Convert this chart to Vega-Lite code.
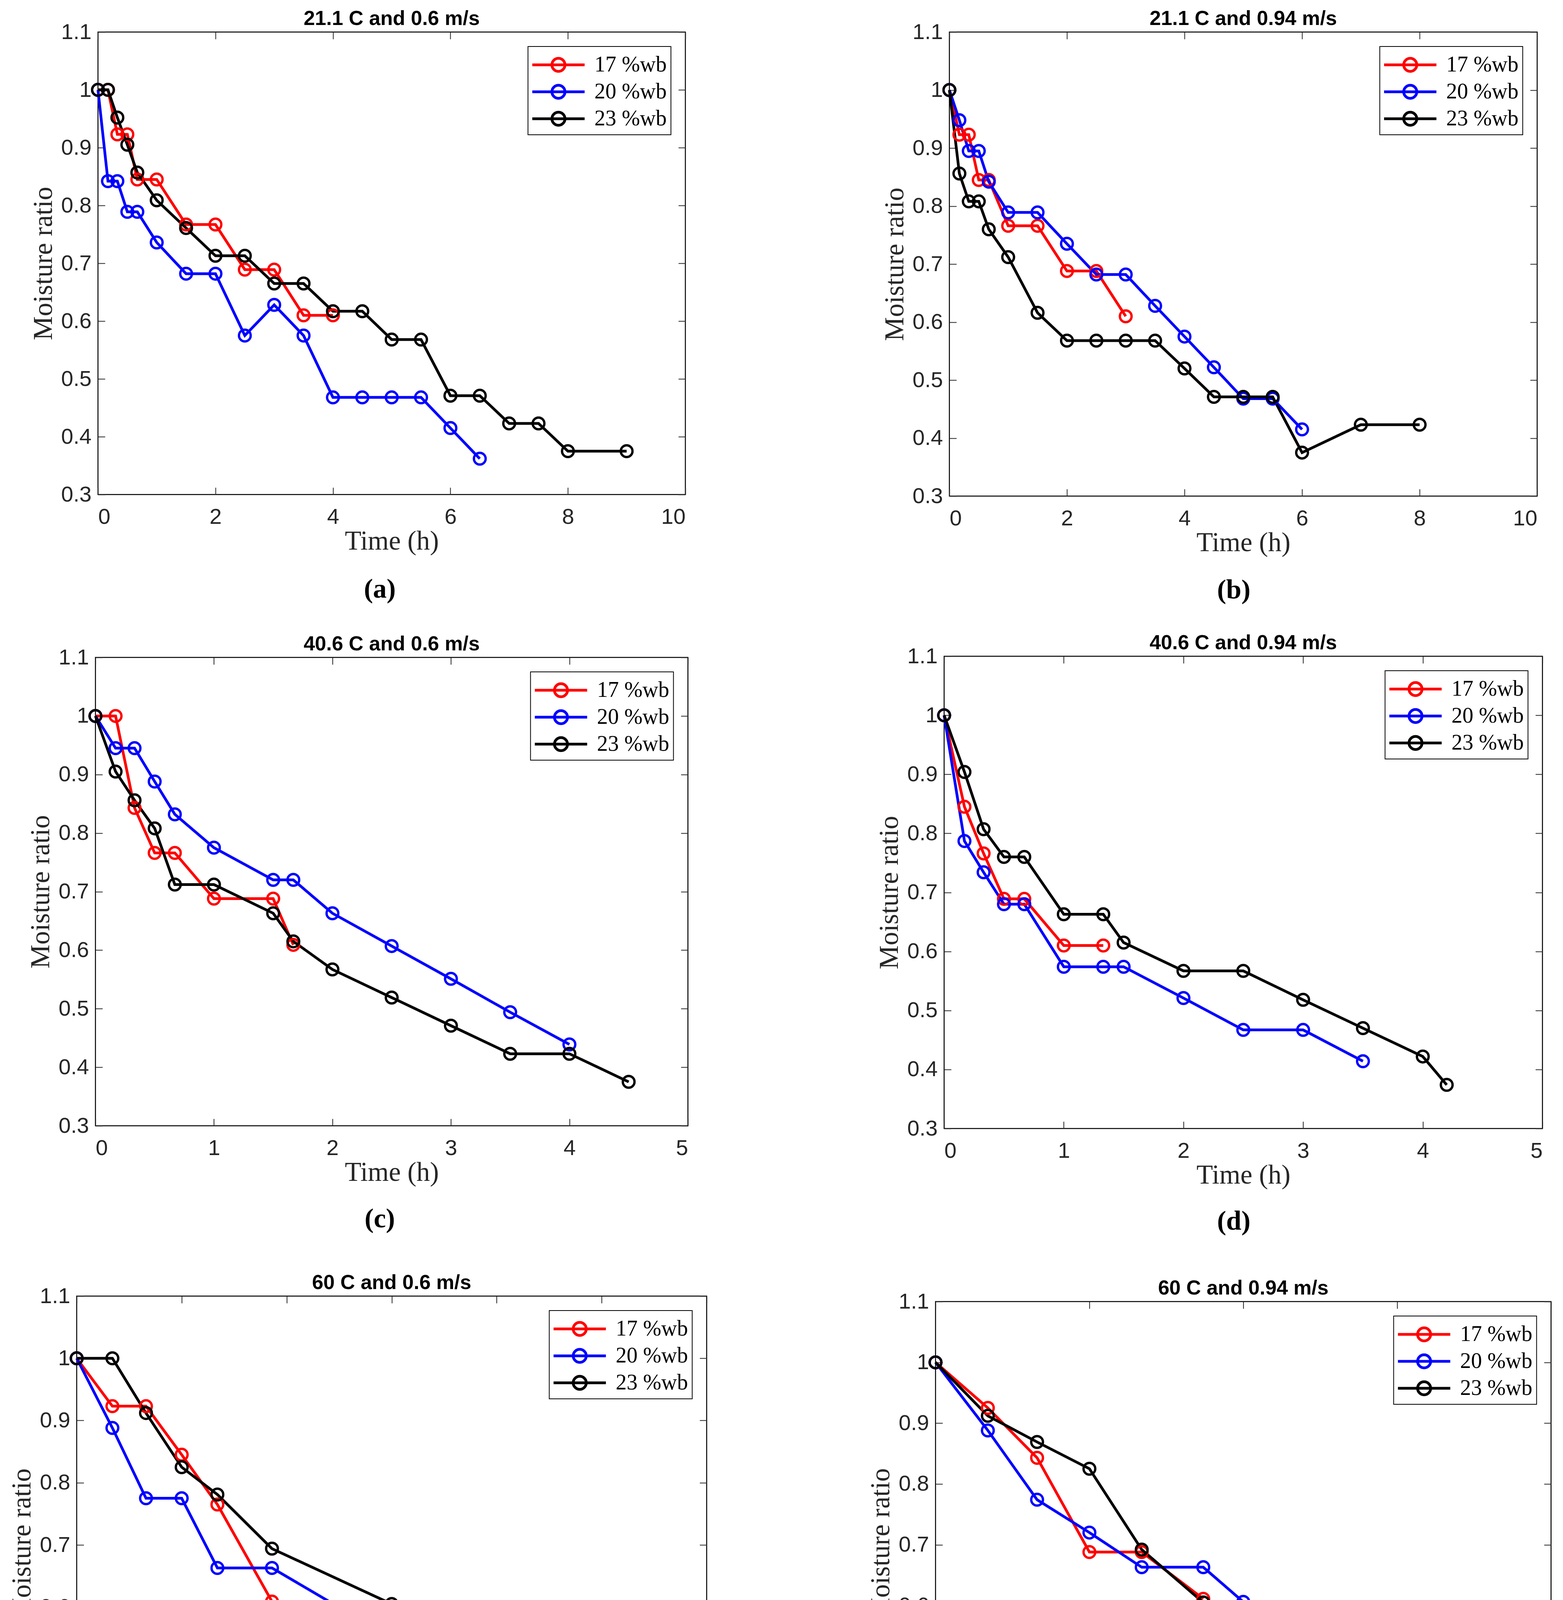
{
  "$schema": "https://vega.github.io/schema/vega-lite/v6.json",
  "background": "white",
  "padding": {"left": 21, "top": 20, "right": 10, "bottom": 0},
  "config": {
    "view": {"stroke": "black", "strokeWidth": 2.5},
    "title": {"font": "Liberation Sans", "fontSize": 52, "fontWeight": "bold", "color": "black", "offset": -21, "anchor": "middle", "frame": "group"},
    "axis": {
      "grid": false, "domain": false, "tickSize": -18, "tickWidth": 2, "tickColor": "#262626", "minExtent": 0,
      "labelFont": "Liberation Sans Narrow, Liberation Sans", "labelFontSize": 56, "labelColor": "#262626",
      "titleFont": "Liberation Serif", "titleFontSize": 69, "titleFontWeight": "normal", "titleColor": "#262626",
      "format": "~r"
    },
    "axisBottom": {"labelPadding": 48, "titlePadding": 0},
    "axisLeft": {"labelPadding": 35, "titlePadding": 10},
    "legend": {
      "orient": "top-right", "offset": 37, "title": null, "labelLimit": 0,
      "strokeColor": "black", "strokeWidth": 2, "fillColor": "white", "padding": 10,
      "labelFont": "Liberation Serif", "labelFontSize": 56, "labelColor": "black",
      "symbolSize": 4489, "symbolStrokeWidth": 6.5, "symbolOffset": 31, "labelOffset": 55, "rowPadding": 1
    },
    "line": {"strokeWidth": 7},
    "point": {"filled": false, "shape": "circle", "size": 900, "strokeWidth": 6, "opacity": 1}
  },
  "datasets": {
    "drying": [
      {"panel": "a", "series": "17 %wb", "time": 0, "mr": 1},
      {"panel": "a", "series": "17 %wb", "time": 0.17, "mr": 1},
      {"panel": "a", "series": "17 %wb", "time": 0.33, "mr": 0.923},
      {"panel": "a", "series": "17 %wb", "time": 0.5, "mr": 0.923},
      {"panel": "a", "series": "17 %wb", "time": 0.67, "mr": 0.845},
      {"panel": "a", "series": "17 %wb", "time": 1, "mr": 0.845},
      {"panel": "a", "series": "17 %wb", "time": 1.5, "mr": 0.767},
      {"panel": "a", "series": "17 %wb", "time": 2, "mr": 0.767},
      {"panel": "a", "series": "17 %wb", "time": 2.5, "mr": 0.689},
      {"panel": "a", "series": "17 %wb", "time": 3, "mr": 0.689},
      {"panel": "a", "series": "17 %wb", "time": 3.5, "mr": 0.61},
      {"panel": "a", "series": "17 %wb", "time": 4, "mr": 0.61},
      {"panel": "a", "series": "20 %wb", "time": 0, "mr": 1},
      {"panel": "a", "series": "20 %wb", "time": 0.17, "mr": 0.842},
      {"panel": "a", "series": "20 %wb", "time": 0.33, "mr": 0.842},
      {"panel": "a", "series": "20 %wb", "time": 0.5, "mr": 0.789},
      {"panel": "a", "series": "20 %wb", "time": 0.67, "mr": 0.789},
      {"panel": "a", "series": "20 %wb", "time": 1, "mr": 0.736},
      {"panel": "a", "series": "20 %wb", "time": 1.5, "mr": 0.682},
      {"panel": "a", "series": "20 %wb", "time": 2, "mr": 0.682},
      {"panel": "a", "series": "20 %wb", "time": 2.5, "mr": 0.575},
      {"panel": "a", "series": "20 %wb", "time": 3, "mr": 0.628},
      {"panel": "a", "series": "20 %wb", "time": 3.5, "mr": 0.575},
      {"panel": "a", "series": "20 %wb", "time": 4, "mr": 0.468},
      {"panel": "a", "series": "20 %wb", "time": 4.5, "mr": 0.468},
      {"panel": "a", "series": "20 %wb", "time": 5, "mr": 0.468},
      {"panel": "a", "series": "20 %wb", "time": 5.5, "mr": 0.468},
      {"panel": "a", "series": "20 %wb", "time": 6, "mr": 0.415},
      {"panel": "a", "series": "20 %wb", "time": 6.5, "mr": 0.362},
      {"panel": "a", "series": "23 %wb", "time": 0, "mr": 1},
      {"panel": "a", "series": "23 %wb", "time": 0.17, "mr": 1},
      {"panel": "a", "series": "23 %wb", "time": 0.33, "mr": 0.952},
      {"panel": "a", "series": "23 %wb", "time": 0.5, "mr": 0.905},
      {"panel": "a", "series": "23 %wb", "time": 0.67, "mr": 0.857},
      {"panel": "a", "series": "23 %wb", "time": 1, "mr": 0.809},
      {"panel": "a", "series": "23 %wb", "time": 1.5, "mr": 0.761},
      {"panel": "a", "series": "23 %wb", "time": 2, "mr": 0.713},
      {"panel": "a", "series": "23 %wb", "time": 2.5, "mr": 0.713},
      {"panel": "a", "series": "23 %wb", "time": 3, "mr": 0.665},
      {"panel": "a", "series": "23 %wb", "time": 3.5, "mr": 0.665},
      {"panel": "a", "series": "23 %wb", "time": 4, "mr": 0.617},
      {"panel": "a", "series": "23 %wb", "time": 4.5, "mr": 0.617},
      {"panel": "a", "series": "23 %wb", "time": 5, "mr": 0.568},
      {"panel": "a", "series": "23 %wb", "time": 5.5, "mr": 0.568},
      {"panel": "a", "series": "23 %wb", "time": 6, "mr": 0.471},
      {"panel": "a", "series": "23 %wb", "time": 6.5, "mr": 0.471},
      {"panel": "a", "series": "23 %wb", "time": 7, "mr": 0.423},
      {"panel": "a", "series": "23 %wb", "time": 7.5, "mr": 0.423},
      {"panel": "a", "series": "23 %wb", "time": 8, "mr": 0.375},
      {"panel": "a", "series": "23 %wb", "time": 9, "mr": 0.375},

      {"panel": "b", "series": "17 %wb", "time": 0, "mr": 1},
      {"panel": "b", "series": "17 %wb", "time": 0.17, "mr": 0.923},
      {"panel": "b", "series": "17 %wb", "time": 0.33, "mr": 0.923},
      {"panel": "b", "series": "17 %wb", "time": 0.5, "mr": 0.845},
      {"panel": "b", "series": "17 %wb", "time": 0.67, "mr": 0.845},
      {"panel": "b", "series": "17 %wb", "time": 1, "mr": 0.766},
      {"panel": "b", "series": "17 %wb", "time": 1.5, "mr": 0.766},
      {"panel": "b", "series": "17 %wb", "time": 2, "mr": 0.688},
      {"panel": "b", "series": "17 %wb", "time": 2.5, "mr": 0.688},
      {"panel": "b", "series": "17 %wb", "time": 3, "mr": 0.61},
      {"panel": "b", "series": "20 %wb", "time": 0, "mr": 1},
      {"panel": "b", "series": "20 %wb", "time": 0.17, "mr": 0.948},
      {"panel": "b", "series": "20 %wb", "time": 0.33, "mr": 0.895},
      {"panel": "b", "series": "20 %wb", "time": 0.5, "mr": 0.895},
      {"panel": "b", "series": "20 %wb", "time": 0.67, "mr": 0.842},
      {"panel": "b", "series": "20 %wb", "time": 1, "mr": 0.789},
      {"panel": "b", "series": "20 %wb", "time": 1.5, "mr": 0.789},
      {"panel": "b", "series": "20 %wb", "time": 2, "mr": 0.735},
      {"panel": "b", "series": "20 %wb", "time": 2.5, "mr": 0.682},
      {"panel": "b", "series": "20 %wb", "time": 3, "mr": 0.682},
      {"panel": "b", "series": "20 %wb", "time": 3.5, "mr": 0.628},
      {"panel": "b", "series": "20 %wb", "time": 4, "mr": 0.575},
      {"panel": "b", "series": "20 %wb", "time": 4.5, "mr": 0.522},
      {"panel": "b", "series": "20 %wb", "time": 5, "mr": 0.468},
      {"panel": "b", "series": "20 %wb", "time": 5.5, "mr": 0.468},
      {"panel": "b", "series": "20 %wb", "time": 6, "mr": 0.415},
      {"panel": "b", "series": "23 %wb", "time": 0, "mr": 1},
      {"panel": "b", "series": "23 %wb", "time": 0.17, "mr": 0.856},
      {"panel": "b", "series": "23 %wb", "time": 0.33, "mr": 0.808},
      {"panel": "b", "series": "23 %wb", "time": 0.5, "mr": 0.808},
      {"panel": "b", "series": "23 %wb", "time": 0.67, "mr": 0.76},
      {"panel": "b", "series": "23 %wb", "time": 1, "mr": 0.712},
      {"panel": "b", "series": "23 %wb", "time": 1.5, "mr": 0.616},
      {"panel": "b", "series": "23 %wb", "time": 2, "mr": 0.568},
      {"panel": "b", "series": "23 %wb", "time": 2.5, "mr": 0.568},
      {"panel": "b", "series": "23 %wb", "time": 3, "mr": 0.568},
      {"panel": "b", "series": "23 %wb", "time": 3.5, "mr": 0.568},
      {"panel": "b", "series": "23 %wb", "time": 4, "mr": 0.52},
      {"panel": "b", "series": "23 %wb", "time": 4.5, "mr": 0.471},
      {"panel": "b", "series": "23 %wb", "time": 5, "mr": 0.471},
      {"panel": "b", "series": "23 %wb", "time": 5.5, "mr": 0.471},
      {"panel": "b", "series": "23 %wb", "time": 6, "mr": 0.375},
      {"panel": "b", "series": "23 %wb", "time": 7, "mr": 0.423},
      {"panel": "b", "series": "23 %wb", "time": 8, "mr": 0.423},

      {"panel": "c", "series": "17 %wb", "time": 0, "mr": 1},
      {"panel": "c", "series": "17 %wb", "time": 0.17, "mr": 1},
      {"panel": "c", "series": "17 %wb", "time": 0.33, "mr": 0.843},
      {"panel": "c", "series": "17 %wb", "time": 0.5, "mr": 0.766},
      {"panel": "c", "series": "17 %wb", "time": 0.67, "mr": 0.766},
      {"panel": "c", "series": "17 %wb", "time": 1, "mr": 0.688},
      {"panel": "c", "series": "17 %wb", "time": 1.5, "mr": 0.688},
      {"panel": "c", "series": "17 %wb", "time": 1.67, "mr": 0.609},
      {"panel": "c", "series": "20 %wb", "time": 0, "mr": 1},
      {"panel": "c", "series": "20 %wb", "time": 0.17, "mr": 0.945},
      {"panel": "c", "series": "20 %wb", "time": 0.33, "mr": 0.945},
      {"panel": "c", "series": "20 %wb", "time": 0.5, "mr": 0.888},
      {"panel": "c", "series": "20 %wb", "time": 0.67, "mr": 0.832},
      {"panel": "c", "series": "20 %wb", "time": 1, "mr": 0.775},
      {"panel": "c", "series": "20 %wb", "time": 1.5, "mr": 0.72},
      {"panel": "c", "series": "20 %wb", "time": 1.67, "mr": 0.72},
      {"panel": "c", "series": "20 %wb", "time": 2, "mr": 0.663},
      {"panel": "c", "series": "20 %wb", "time": 2.5, "mr": 0.607},
      {"panel": "c", "series": "20 %wb", "time": 3, "mr": 0.551},
      {"panel": "c", "series": "20 %wb", "time": 3.5, "mr": 0.494},
      {"panel": "c", "series": "20 %wb", "time": 4, "mr": 0.439},
      {"panel": "c", "series": "23 %wb", "time": 0, "mr": 1},
      {"panel": "c", "series": "23 %wb", "time": 0.17, "mr": 0.905},
      {"panel": "c", "series": "23 %wb", "time": 0.33, "mr": 0.856},
      {"panel": "c", "series": "23 %wb", "time": 0.5, "mr": 0.808},
      {"panel": "c", "series": "23 %wb", "time": 0.67, "mr": 0.712},
      {"panel": "c", "series": "23 %wb", "time": 1, "mr": 0.712},
      {"panel": "c", "series": "23 %wb", "time": 1.5, "mr": 0.663},
      {"panel": "c", "series": "23 %wb", "time": 1.67, "mr": 0.615},
      {"panel": "c", "series": "23 %wb", "time": 2, "mr": 0.567},
      {"panel": "c", "series": "23 %wb", "time": 2.5, "mr": 0.519},
      {"panel": "c", "series": "23 %wb", "time": 3, "mr": 0.471},
      {"panel": "c", "series": "23 %wb", "time": 3.5, "mr": 0.423},
      {"panel": "c", "series": "23 %wb", "time": 4, "mr": 0.423},
      {"panel": "c", "series": "23 %wb", "time": 4.5, "mr": 0.375},

      {"panel": "d", "series": "17 %wb", "time": 0, "mr": 1},
      {"panel": "d", "series": "17 %wb", "time": 0.17, "mr": 0.845},
      {"panel": "d", "series": "17 %wb", "time": 0.33, "mr": 0.766},
      {"panel": "d", "series": "17 %wb", "time": 0.5, "mr": 0.689},
      {"panel": "d", "series": "17 %wb", "time": 0.67, "mr": 0.689},
      {"panel": "d", "series": "17 %wb", "time": 1, "mr": 0.61},
      {"panel": "d", "series": "17 %wb", "time": 1.33, "mr": 0.61},
      {"panel": "d", "series": "20 %wb", "time": 0, "mr": 1},
      {"panel": "d", "series": "20 %wb", "time": 0.17, "mr": 0.787},
      {"panel": "d", "series": "20 %wb", "time": 0.33, "mr": 0.734},
      {"panel": "d", "series": "20 %wb", "time": 0.5, "mr": 0.68},
      {"panel": "d", "series": "20 %wb", "time": 0.67, "mr": 0.68},
      {"panel": "d", "series": "20 %wb", "time": 1, "mr": 0.574},
      {"panel": "d", "series": "20 %wb", "time": 1.33, "mr": 0.574},
      {"panel": "d", "series": "20 %wb", "time": 1.5, "mr": 0.574},
      {"panel": "d", "series": "20 %wb", "time": 2, "mr": 0.521},
      {"panel": "d", "series": "20 %wb", "time": 2.5, "mr": 0.467},
      {"panel": "d", "series": "20 %wb", "time": 3, "mr": 0.467},
      {"panel": "d", "series": "20 %wb", "time": 3.5, "mr": 0.414},
      {"panel": "d", "series": "23 %wb", "time": 0, "mr": 1},
      {"panel": "d", "series": "23 %wb", "time": 0.17, "mr": 0.904},
      {"panel": "d", "series": "23 %wb", "time": 0.33, "mr": 0.807},
      {"panel": "d", "series": "23 %wb", "time": 0.5, "mr": 0.76},
      {"panel": "d", "series": "23 %wb", "time": 0.67, "mr": 0.76},
      {"panel": "d", "series": "23 %wb", "time": 1, "mr": 0.663},
      {"panel": "d", "series": "23 %wb", "time": 1.33, "mr": 0.663},
      {"panel": "d", "series": "23 %wb", "time": 1.5, "mr": 0.615},
      {"panel": "d", "series": "23 %wb", "time": 2, "mr": 0.567},
      {"panel": "d", "series": "23 %wb", "time": 2.5, "mr": 0.567},
      {"panel": "d", "series": "23 %wb", "time": 3, "mr": 0.518},
      {"panel": "d", "series": "23 %wb", "time": 3.5, "mr": 0.47},
      {"panel": "d", "series": "23 %wb", "time": 4, "mr": 0.422},
      {"panel": "d", "series": "23 %wb", "time": 4.2, "mr": 0.374},

      {"panel": "e", "series": "17 %wb", "time": 0, "mr": 1},
      {"panel": "e", "series": "17 %wb", "time": 0.17, "mr": 0.923},
      {"panel": "e", "series": "17 %wb", "time": 0.33, "mr": 0.923},
      {"panel": "e", "series": "17 %wb", "time": 0.5, "mr": 0.845},
      {"panel": "e", "series": "17 %wb", "time": 0.67, "mr": 0.765},
      {"panel": "e", "series": "17 %wb", "time": 0.93, "mr": 0.609},
      {"panel": "e", "series": "20 %wb", "time": 0, "mr": 1},
      {"panel": "e", "series": "20 %wb", "time": 0.17, "mr": 0.888},
      {"panel": "e", "series": "20 %wb", "time": 0.33, "mr": 0.775},
      {"panel": "e", "series": "20 %wb", "time": 0.5, "mr": 0.775},
      {"panel": "e", "series": "20 %wb", "time": 0.67, "mr": 0.663},
      {"panel": "e", "series": "20 %wb", "time": 0.93, "mr": 0.663},
      {"panel": "e", "series": "20 %wb", "time": 1.5, "mr": 0.55},
      {"panel": "e", "series": "20 %wb", "time": 1.8, "mr": 0.494},
      {"panel": "e", "series": "23 %wb", "time": 0, "mr": 1},
      {"panel": "e", "series": "23 %wb", "time": 0.17, "mr": 1},
      {"panel": "e", "series": "23 %wb", "time": 0.33, "mr": 0.912},
      {"panel": "e", "series": "23 %wb", "time": 0.5, "mr": 0.825},
      {"panel": "e", "series": "23 %wb", "time": 0.67, "mr": 0.781},
      {"panel": "e", "series": "23 %wb", "time": 0.93, "mr": 0.694},
      {"panel": "e", "series": "23 %wb", "time": 1.5, "mr": 0.605},
      {"panel": "e", "series": "23 %wb", "time": 1.8, "mr": 0.562},
      {"panel": "e", "series": "23 %wb", "time": 2, "mr": 0.517},
      {"panel": "e", "series": "23 %wb", "time": 2.5, "mr": 0.342},

      {"panel": "f", "series": "17 %wb", "time": 0, "mr": 1},
      {"panel": "f", "series": "17 %wb", "time": 0.17, "mr": 0.925},
      {"panel": "f", "series": "17 %wb", "time": 0.33, "mr": 0.843},
      {"panel": "f", "series": "17 %wb", "time": 0.5, "mr": 0.688},
      {"panel": "f", "series": "17 %wb", "time": 0.67, "mr": 0.688},
      {"panel": "f", "series": "17 %wb", "time": 0.87, "mr": 0.611},
      {"panel": "f", "series": "20 %wb", "time": 0, "mr": 1},
      {"panel": "f", "series": "20 %wb", "time": 0.17, "mr": 0.888},
      {"panel": "f", "series": "20 %wb", "time": 0.33, "mr": 0.774},
      {"panel": "f", "series": "20 %wb", "time": 0.5, "mr": 0.72},
      {"panel": "f", "series": "20 %wb", "time": 0.67, "mr": 0.663},
      {"panel": "f", "series": "20 %wb", "time": 0.87, "mr": 0.663},
      {"panel": "f", "series": "20 %wb", "time": 1, "mr": 0.606},
      {"panel": "f", "series": "20 %wb", "time": 1.37, "mr": 0.437},
      {"panel": "f", "series": "23 %wb", "time": 0, "mr": 1},
      {"panel": "f", "series": "23 %wb", "time": 0.17, "mr": 0.912},
      {"panel": "f", "series": "23 %wb", "time": 0.33, "mr": 0.869},
      {"panel": "f", "series": "23 %wb", "time": 0.5, "mr": 0.825},
      {"panel": "f", "series": "23 %wb", "time": 0.67, "mr": 0.692},
      {"panel": "f", "series": "23 %wb", "time": 0.87, "mr": 0.605},
      {"panel": "f", "series": "23 %wb", "time": 1, "mr": 0.561},
      {"panel": "f", "series": "23 %wb", "time": 1.37, "mr": 0.473},
      {"panel": "f", "series": "23 %wb", "time": 1.5, "mr": 0.385},
      {"panel": "f", "series": "23 %wb", "time": 1.83, "mr": 0.34}
    ]
  },
  "data": {"name": "drying"},
  "resolve": {"scale": {"color": "independent", "stroke": "independent"}, "legend": {"stroke": "independent"}},
  "spacing": 408,
  "hconcat": [
    {
      "vconcat": [
        {
          "title": {"text": "(a)", "orient": "bottom", "offset": 54, "dx": 56, "font": "Liberation Serif", "fontSize": 70, "fontWeight": "bold", "frame": "bounds"},
          "resolve": {"scale": {"stroke": "independent"}, "legend": {"stroke": "independent"}},
          "vconcat": [
            {
              "width": 1504, "height": 1184,
              "title": {"text": "21.1 C and 0.6 m/s"},
              "transform": [{"filter": "datum.panel == 'a'"}],
              "encoding": {
                "stroke": {"field": "series", "type": "nominal",
                  "scale": {"domain": ["17 %wb", "20 %wb", "23 %wb"], "range": ["#ff0000", "#0000ff", "#000000"]},
                  "legend": {"symbolType": "M-2,0L2,0M-0.5,0A0.5,0.5,0,1,1,0.5,0A0.5,0.5,0,1,1,-0.5,0Z", "symbolFillColor": "transparent"}}
              },
              "layer": [
                {"mark": "line", "encoding": {
                  "x": {"field": "time", "type": "quantitative", "scale": {"domain": [0, 10], "nice": false, "zero": false}, "axis": {"values": [0, 2, 4, 6, 8, 10], "title": "Time (h)"}},
                  "y": {"field": "mr", "type": "quantitative", "scale": {"domain": [0.3, 1.1], "nice": false, "zero": false}, "axis": {"values": [0.3, 0.4, 0.5, 0.6, 0.7, 0.8, 0.9, 1, 1.1], "title": "Moisture ratio"}}}},
                {"mark": "point", "encoding": {
                  "x": {"field": "time", "type": "quantitative", "scale": {"domain": [0, 10], "nice": false, "zero": false}, "axis": {"orient": "top", "values": [0, 2, 4, 6, 8, 10], "labels": false, "title": null}},
                  "y": {"field": "mr", "type": "quantitative", "scale": {"domain": [0.3, 1.1], "nice": false, "zero": false}, "axis": {"orient": "right", "values": [0.3, 0.4, 0.5, 0.6, 0.7, 0.8, 0.9, 1, 1.1], "labels": false, "title": null}}}}
              ],
              "resolve": {"scale": {"x": "independent", "y": "independent"}}
            }
          ]
        },
        {
          "title": {"text": "(c)", "orient": "bottom", "offset": 50, "dx": 56, "font": "Liberation Serif", "fontSize": 70, "fontWeight": "bold", "frame": "bounds", "subtitle": " ", "subtitleFontSize": 8, "subtitlePadding": 14},
          "resolve": {"scale": {"stroke": "independent"}, "legend": {"stroke": "independent"}},
          "vconcat": [
            {
              "width": 1517, "height": 1199,
              "title": {"text": "40.6 C and 0.6 m/s"},
              "transform": [{"filter": "datum.panel == 'c'"}],
              "encoding": {
                "stroke": {"field": "series", "type": "nominal",
                  "scale": {"domain": ["17 %wb", "20 %wb", "23 %wb"], "range": ["#ff0000", "#0000ff", "#000000"]},
                  "legend": {"symbolType": "M-2,0L2,0M-0.5,0A0.5,0.5,0,1,1,0.5,0A0.5,0.5,0,1,1,-0.5,0Z", "symbolFillColor": "transparent"}}
              },
              "layer": [
                {"mark": "line", "encoding": {
                  "x": {"field": "time", "type": "quantitative", "scale": {"domain": [0, 5], "nice": false, "zero": false}, "axis": {"values": [0, 1, 2, 3, 4, 5], "title": "Time (h)"}},
                  "y": {"field": "mr", "type": "quantitative", "scale": {"domain": [0.3, 1.1], "nice": false, "zero": false}, "axis": {"values": [0.3, 0.4, 0.5, 0.6, 0.7, 0.8, 0.9, 1, 1.1], "title": "Moisture ratio"}}}},
                {"mark": "point", "encoding": {
                  "x": {"field": "time", "type": "quantitative", "scale": {"domain": [0, 5], "nice": false, "zero": false}, "axis": {"orient": "top", "values": [0, 1, 2, 3, 4, 5], "labels": false, "title": null}},
                  "y": {"field": "mr", "type": "quantitative", "scale": {"domain": [0.3, 1.1], "nice": false, "zero": false}, "axis": {"orient": "right", "values": [0.3, 0.4, 0.5, 0.6, 0.7, 0.8, 0.9, 1, 1.1], "labels": false, "title": null}}}}
              ],
              "resolve": {"scale": {"x": "independent", "y": "independent"}}
            }
          ]
        },
        {
          "title": {"text": "(e)", "orient": "bottom", "offset": 80, "dx": 56, "font": "Liberation Serif", "fontSize": 70, "fontWeight": "bold", "frame": "bounds"},
          "resolve": {"scale": {"stroke": "independent"}, "legend": {"stroke": "independent"}},
          "vconcat": [
            {
              "width": 1613, "height": 1274,
              "title": {"text": "60 C and 0.6 m/s"},
              "transform": [{"filter": "datum.panel == 'e'"}],
              "encoding": {
                "stroke": {"field": "series", "type": "nominal",
                  "scale": {"domain": ["17 %wb", "20 %wb", "23 %wb"], "range": ["#ff0000", "#0000ff", "#000000"]},
                  "legend": {"symbolType": "M-2,0L2,0M-0.5,0A0.5,0.5,0,1,1,0.5,0A0.5,0.5,0,1,1,-0.5,0Z", "symbolFillColor": "transparent"}}
              },
              "layer": [
                {"mark": "line", "encoding": {
                  "x": {"field": "time", "type": "quantitative", "scale": {"domain": [0, 3], "nice": false, "zero": false}, "axis": {"values": [0, 0.5, 1, 1.5, 2, 2.5, 3], "title": "Time (h)"}},
                  "y": {"field": "mr", "type": "quantitative", "scale": {"domain": [0.3, 1.1], "nice": false, "zero": false}, "axis": {"values": [0.3, 0.4, 0.5, 0.6, 0.7, 0.8, 0.9, 1, 1.1], "title": "Moisture ratio"}}}},
                {"mark": "point", "encoding": {
                  "x": {"field": "time", "type": "quantitative", "scale": {"domain": [0, 3], "nice": false, "zero": false}, "axis": {"orient": "top", "values": [0, 0.5, 1, 1.5, 2, 2.5, 3], "labels": false, "title": null}},
                  "y": {"field": "mr", "type": "quantitative", "scale": {"domain": [0.3, 1.1], "nice": false, "zero": false}, "axis": {"orient": "right", "values": [0.3, 0.4, 0.5, 0.6, 0.7, 0.8, 0.9, 1, 1.1], "labels": false, "title": null}}}}
              ],
              "resolve": {"scale": {"x": "independent", "y": "independent"}}
            }
          ]
        }
      ],
      "spacing": 76,
      "center": true,
      "resolve": {"scale": {"stroke": "independent"}, "legend": {"stroke": "independent"}}
    },
    {
      "vconcat": [
        {
          "title": {"text": "(b)", "orient": "bottom", "offset": 52, "dx": 62, "font": "Liberation Serif", "fontSize": 70, "fontWeight": "bold", "frame": "bounds"},
          "resolve": {"scale": {"stroke": "independent"}, "legend": {"stroke": "independent"}},
          "vconcat": [
            {
              "width": 1505, "height": 1188,
              "title": {"text": "21.1 C and 0.94 m/s"},
              "transform": [{"filter": "datum.panel == 'b'"}],
              "encoding": {
                "stroke": {"field": "series", "type": "nominal",
                  "scale": {"domain": ["17 %wb", "20 %wb", "23 %wb"], "range": ["#ff0000", "#0000ff", "#000000"]},
                  "legend": {"symbolType": "M-2,0L2,0M-0.5,0A0.5,0.5,0,1,1,0.5,0A0.5,0.5,0,1,1,-0.5,0Z", "symbolFillColor": "transparent"}}
              },
              "layer": [
                {"mark": "line", "encoding": {
                  "x": {"field": "time", "type": "quantitative", "scale": {"domain": [0, 10], "nice": false, "zero": false}, "axis": {"values": [0, 2, 4, 6, 8, 10], "title": "Time (h)"}},
                  "y": {"field": "mr", "type": "quantitative", "scale": {"domain": [0.3, 1.1], "nice": false, "zero": false}, "axis": {"values": [0.3, 0.4, 0.5, 0.6, 0.7, 0.8, 0.9, 1, 1.1], "title": "Moisture ratio"}}}},
                {"mark": "point", "encoding": {
                  "x": {"field": "time", "type": "quantitative", "scale": {"domain": [0, 10], "nice": false, "zero": false}, "axis": {"orient": "top", "values": [0, 2, 4, 6, 8, 10], "labels": false, "title": null}},
                  "y": {"field": "mr", "type": "quantitative", "scale": {"domain": [0.3, 1.1], "nice": false, "zero": false}, "axis": {"orient": "right", "values": [0.3, 0.4, 0.5, 0.6, 0.7, 0.8, 0.9, 1, 1.1], "labels": false, "title": null}}}}
              ],
              "resolve": {"scale": {"x": "independent", "y": "independent"}}
            }
          ]
        },
        {
          "title": {"text": "(d)", "orient": "bottom", "offset": 49, "dx": 62, "font": "Liberation Serif", "fontSize": 70, "fontWeight": "bold", "frame": "bounds", "subtitle": " ", "subtitleFontSize": 8, "subtitlePadding": 27},
          "resolve": {"scale": {"stroke": "independent"}, "legend": {"stroke": "independent"}},
          "vconcat": [
            {
              "width": 1532, "height": 1209,
              "title": {"text": "40.6 C and 0.94 m/s"},
              "transform": [{"filter": "datum.panel == 'd'"}],
              "encoding": {
                "stroke": {"field": "series", "type": "nominal",
                  "scale": {"domain": ["17 %wb", "20 %wb", "23 %wb"], "range": ["#ff0000", "#0000ff", "#000000"]},
                  "legend": {"symbolType": "M-2,0L2,0M-0.5,0A0.5,0.5,0,1,1,0.5,0A0.5,0.5,0,1,1,-0.5,0Z", "symbolFillColor": "transparent"}}
              },
              "layer": [
                {"mark": "line", "encoding": {
                  "x": {"field": "time", "type": "quantitative", "scale": {"domain": [0, 5], "nice": false, "zero": false}, "axis": {"values": [0, 1, 2, 3, 4, 5], "title": "Time (h)"}},
                  "y": {"field": "mr", "type": "quantitative", "scale": {"domain": [0.3, 1.1], "nice": false, "zero": false}, "axis": {"values": [0.3, 0.4, 0.5, 0.6, 0.7, 0.8, 0.9, 1, 1.1], "title": "Moisture ratio"}}}},
                {"mark": "point", "encoding": {
                  "x": {"field": "time", "type": "quantitative", "scale": {"domain": [0, 5], "nice": false, "zero": false}, "axis": {"orient": "top", "values": [0, 1, 2, 3, 4, 5], "labels": false, "title": null}},
                  "y": {"field": "mr", "type": "quantitative", "scale": {"domain": [0.3, 1.1], "nice": false, "zero": false}, "axis": {"orient": "right", "values": [0.3, 0.4, 0.5, 0.6, 0.7, 0.8, 0.9, 1, 1.1], "labels": false, "title": null}}}}
              ],
              "resolve": {"scale": {"x": "independent", "y": "independent"}}
            }
          ]
        },
        {
          "title": {"text": "(f)", "orient": "bottom", "offset": 94, "dx": 62, "font": "Liberation Serif", "fontSize": 70, "fontWeight": "bold", "frame": "bounds"},
          "resolve": {"scale": {"stroke": "independent"}, "legend": {"stroke": "independent"}},
          "vconcat": [
            {
              "width": 1576, "height": 1245,
              "title": {"text": "60 C and 0.94 m/s"},
              "transform": [{"filter": "datum.panel == 'f'"}],
              "encoding": {
                "stroke": {"field": "series", "type": "nominal",
                  "scale": {"domain": ["17 %wb", "20 %wb", "23 %wb"], "range": ["#ff0000", "#0000ff", "#000000"]},
                  "legend": {"symbolType": "M-2,0L2,0M-0.5,0A0.5,0.5,0,1,1,0.5,0A0.5,0.5,0,1,1,-0.5,0Z", "symbolFillColor": "transparent"}}
              },
              "layer": [
                {"mark": "line", "encoding": {
                  "x": {"field": "time", "type": "quantitative", "scale": {"domain": [0, 2], "nice": false, "zero": false}, "axis": {"values": [0, 0.5, 1, 1.5, 2], "title": "Time (h)"}},
                  "y": {"field": "mr", "type": "quantitative", "scale": {"domain": [0.3, 1.1], "nice": false, "zero": false}, "axis": {"values": [0.3, 0.4, 0.5, 0.6, 0.7, 0.8, 0.9, 1, 1.1], "title": "Moisture ratio"}}}},
                {"mark": "point", "encoding": {
                  "x": {"field": "time", "type": "quantitative", "scale": {"domain": [0, 2], "nice": false, "zero": false}, "axis": {"orient": "top", "values": [0, 0.5, 1, 1.5, 2], "labels": false, "title": null}},
                  "y": {"field": "mr", "type": "quantitative", "scale": {"domain": [0.3, 1.1], "nice": false, "zero": false}, "axis": {"orient": "right", "values": [0.3, 0.4, 0.5, 0.6, 0.7, 0.8, 0.9, 1, 1.1], "labels": false, "title": null}}}}
              ],
              "resolve": {"scale": {"x": "independent", "y": "independent"}}
            }
          ]
        }
      ],
      "spacing": 71,
      "center": true,
      "resolve": {"scale": {"stroke": "independent"}, "legend": {"stroke": "independent"}}
    }
  ]
}
